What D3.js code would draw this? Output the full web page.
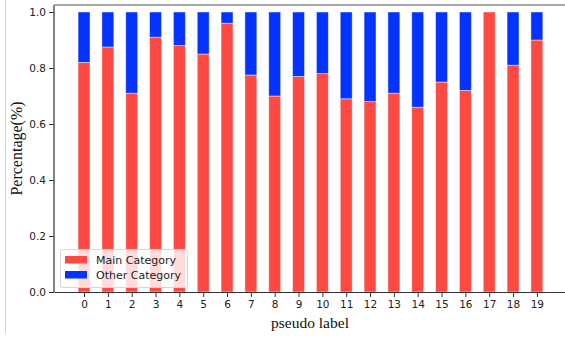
<!DOCTYPE html>
<html>
<head>
<meta charset="utf-8">
<script src="https://cdn.jsdelivr.net/npm/d3@7"></script>
<style>
  body { margin: 0; background: #fff; }
  svg { display: block; }
</style>
</head>
<body>
<div id="viz"></div>
<script>
// pseudo label index and share of the main category per label
const labels = ["0", "1", "2", "3", "4", "5", "6", "7", "8", "9",
                "10", "11", "12", "13", "14", "15", "16", "17", "18", "19"];
const mainShare = [0.82, 0.875, 0.71, 0.91, 0.88, 0.85, 0.96, 0.775, 0.70, 0.77,
                   0.78, 0.69, 0.68, 0.71, 0.66, 0.75, 0.72, 1.0, 0.81, 0.90];
const otherShare = mainShare.map(v => 1 - v);
const yTicks = [0, 0.2, 0.4, 0.6, 0.8, 1.0];
const seriesNames = ["Main Category", "Other Category"];
const colors = ["#ff4a43", "#0433ff"];

const fullWidth = 565;
const fullHeight = 337;
const margin = { top: 5, left: 54, bottom: 45 };

const svg = d3.select("#viz").append("svg")
    .attr("width", fullWidth)
    .attr("height", fullHeight);

// thin frame line left over from the screenshot
svg.append("line")
    .attr("x1", 5.5).attr("x2", 5.5)
    .attr("y1", 0).attr("y2", 333)
    .attr("stroke", "#cfcfcf")
    .attr("stroke-width", 1);

const xScale = d3.scaleLinear()
    .domain([-1.26, 20.18])
    .range([margin.left, fullWidth]);
const yScale = d3.scaleLinear()
    .domain([0, 1.025])
    .range([fullHeight - margin.bottom, margin.top]);

const barWidth = xScale(0.5) - xScale(0);

// stacked bars
const stacked = labels.map((d, i) => ({ i: i, main: mainShare[i], other: otherShare[i] }));

svg.append("g").selectAll("rect.main")
    .data(stacked)
    .enter().append("rect")
        .attr("x", d => xScale(d.i) - barWidth / 2)
        .attr("y", d => yScale(d.main))
        .attr("width", barWidth)
        .attr("height", d => yScale(0) - yScale(d.main))
        .attr("fill", colors[0])
        .attr("stroke", "rgba(255,255,255,0.55)")
        .attr("stroke-width", 0.8);

svg.append("g").selectAll("rect.other")
    .data(stacked.filter(d => d.other > 0.0001))
    .enter().append("rect")
        .attr("x", d => xScale(d.i) - barWidth / 2)
        .attr("y", d => yScale(d.main + d.other))
        .attr("width", barWidth)
        .attr("height", d => yScale(d.main) - yScale(d.main + d.other))
        .attr("fill", colors[1])
        .attr("stroke", "rgba(255,255,255,0.55)")
        .attr("stroke-width", 0.8);

// axes
const yAxis = d3.axisLeft(yScale)
    .tickValues(yTicks)
    .tickFormat(d3.format(".1f"))
    .tickSizeInner(5)
    .tickSizeOuter(0)
    .tickPadding(3);
const gy = svg.append("g")
    .attr("transform", "translate(" + margin.left + ",0)")
    .call(yAxis);

const xAxis = d3.axisBottom(xScale)
    .tickValues(labels.map((d, i) => i))
    .tickFormat(i => labels[i])
    .tickSizeInner(5)
    .tickSizeOuter(0)
    .tickPadding(4);
const gx = svg.append("g")
    .attr("transform", "translate(0," + yScale(0) + ")")
    .call(xAxis);

[gx, gy].forEach(g => {
    g.selectAll(".domain").attr("stroke", "#333").attr("stroke-width", 1.2);
    g.selectAll(".tick line").attr("stroke", "#333");
    g.selectAll(".tick text")
        .attr("fill", "#222")
        .style("font-family", "DejaVu Sans")
        .style("font-size", "10.5px");
});
gy.select(".domain").attr("d", "M0," + yScale(0) + "V" + margin.top);

// top spine
svg.append("line")
    .attr("x1", margin.left).attr("x2", fullWidth)
    .attr("y1", margin.top).attr("y2", margin.top)
    .attr("stroke", "#8a8a8a")
    .attr("stroke-width", 1.6);

// axis titles
svg.append("text")
    .attr("x", 310)
    .attr("y", 328)
    .attr("text-anchor", "middle")
    .style("font-family", "Liberation Serif")
    .style("font-size", "15.5px")
    .attr("fill", "#111")
    .text("pseudo label");

svg.append("text")
    .attr("transform", "translate(22," + ((yScale(0) + margin.top) / 2) + ") rotate(-90)")
    .attr("text-anchor", "middle")
    .style("font-family", "Liberation Serif")
    .style("font-size", "16px")
    .attr("fill", "#111")
    .text("Percentage(%)");

// legend
const legend = svg.append("g").attr("transform", "translate(60,249)");
legend.append("rect")
    .attr("x", 0.5).attr("y", 0.5)
    .attr("width", 127).attr("height", 38)
    .attr("rx", 2.5)
    .attr("fill", "rgba(255,255,255,0.8)")
    .attr("stroke", "#d6d6d6");

legend.selectAll("rect.key")
    .data(seriesNames)
    .enter().append("rect")
        .attr("x", 5)
        .attr("y", (d, i) => 7 + i * 15)
        .attr("width", 22)
        .attr("height", 7.5)
        .attr("fill", (d, i) => colors[i]);

legend.selectAll("text")
    .data(seriesNames)
    .enter().append("text")
        .attr("x", 36)
        .attr("y", (d, i) => 14.5 + i * 15)
        .style("font-family", "DejaVu Sans")
        .style("font-size", "11px")
        .attr("fill", "#222")
        .text(d => d);
</script>
</body>
</html>
